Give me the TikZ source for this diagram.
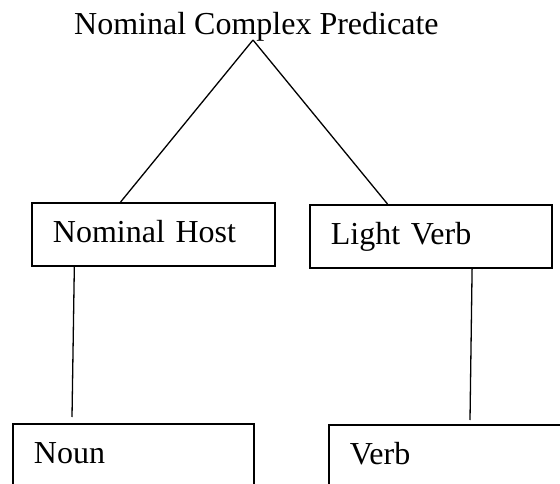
\documentclass[tikz,border=0pt]{standalone}
\usepackage{fontspec}
\setmainfont{Liberation Serif}
\usetikzlibrary{calc}
\begin{document}
\begin{tikzpicture}[x=1pt,y=-1pt,
  every node/.style={font=\fontsize{32}{38}\selectfont},
  catbox/.style={draw, line width=1.8pt, anchor=north west, inner xsep=21pt, inner ysep=0pt,
    text width=#1, align=left, minimum height=63pt, text height=22pt, text depth=6pt},
  branch/.style={line width=1.3pt}]
  \useasboundingbox (0,0) rectangle (560,484);
  \clip (0,0) rectangle (560,484);
  % root label and the point where its two branches meet
  \node[anchor=base west, inner sep=0pt] (root) at (74,35) {Nominal Complex Predicate};
  \coordinate (apex) at (253,40);
  % middle level
  \node[catbox=201pt] (host) at (31,202) {Nominal Host};
  \node[catbox=200pt, minimum height=63pt] (light) at (309,204) {Light Verb};
  % bottom level (boxes run past the lower edge)
  \node[catbox=199pt, minimum height=64pt] (noun) at (12,423) {Noun};
  \node[catbox=201pt, minimum height=64pt] (verb) at (328,424) {Verb};
  % branches
  \draw[branch] (apex) -- ($(host.north west)!0.366!(host.north east)$);
  \draw[branch] (apex) -- ($(light.north west)!0.322!(light.north east)$);
  \coordinate (nounTop) at (72,417);
  \coordinate (verbTop) at (470,420);
  \draw[branch] ($(host.south west)!0.177!(host.south east)$) -- (nounTop);
  \draw[branch] ($(light.south west)!0.669!(light.south east)$) -- (verbTop);
\end{tikzpicture}
\end{document}
